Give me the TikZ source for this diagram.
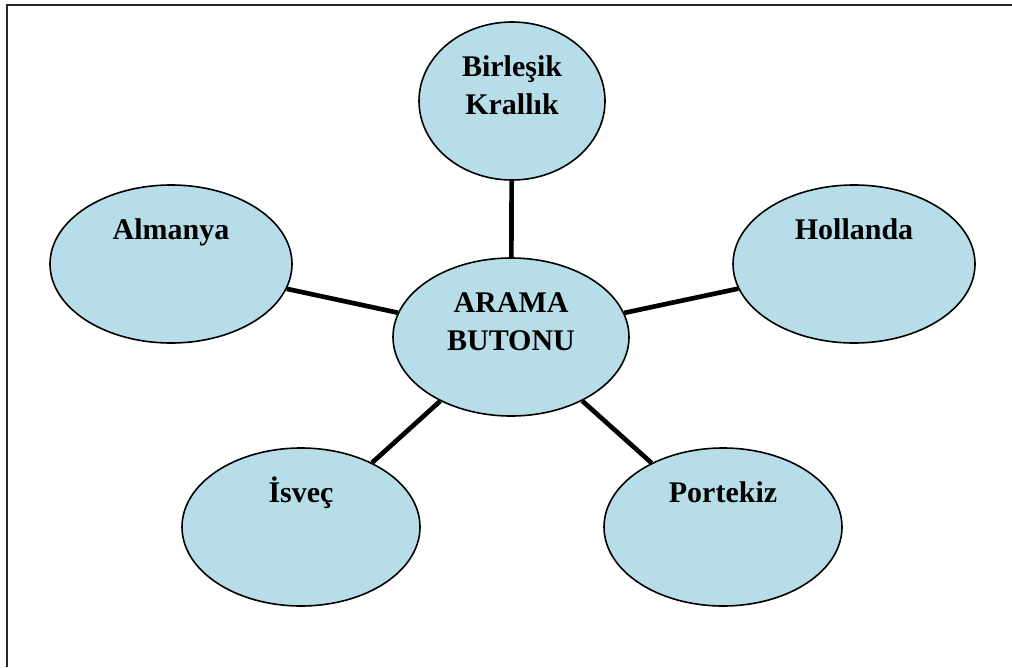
\documentclass[tikz,border=0pt]{standalone}
\usepackage{fontspec}
\setmainfont{Liberation Serif}
\usepackage{tikz}
\usetikzlibrary{shapes.geometric}

\definecolor{bubblefill}{RGB}{183,222,232}

\begin{document}
\begin{tikzpicture}[x=0.75pt, y=-0.75pt,
  bubble/.style={draw, ellipse, fill=bubblefill, line width=1.2pt,
    minimum height=118.5pt, inner sep=0pt, align=center,
    font=\fontsize{22.5}{28.5}\selectfont\bfseries},
  spoke/.style={line width=3.5pt},
  frameline/.style={line width=1.2pt, draw=black!85}]

\useasboundingbox (0,0) rectangle (1012,667);

% --- Frame ---
\draw[frameline] (7,667) |- (1012,5);

% --- Centre ---
\node[bubble, minimum width=177pt] (arama) at (511,337)
  {\strut ARAMA\\\strut BUTONU\\\mbox{}};

% --- Countries ---
\node[bubble, minimum width=139.5pt] (birlesik) at (512,101)
  {\strut Birleşik\\\strut Krallık\\\mbox{}};
\node[bubble, minimum width=181.5pt] (almanya) at (171,264)
  {\strut Almanya\\\strut\\\mbox{}};
\node[bubble, minimum width=181.5pt] (hollanda) at (854,264)
  {\strut Hollanda\\\strut\\\mbox{}};
\node[bubble, minimum width=178.5pt] (isvec) at (301,527)
  {\strut İsveç\\\strut\\\mbox{}};
\node[bubble, minimum width=178.5pt] (portekiz) at (723,527)
  {\strut Portekiz\\\strut\\\mbox{}};

% --- Spokes ---
\draw[spoke] (arama) -- (birlesik);
\draw[spoke] (arama) -- (almanya);
\draw[spoke] (arama) -- (hollanda);
\draw[spoke] (arama) -- (isvec);
\draw[spoke] (arama) -- (portekiz);

\end{tikzpicture}
\end{document}
